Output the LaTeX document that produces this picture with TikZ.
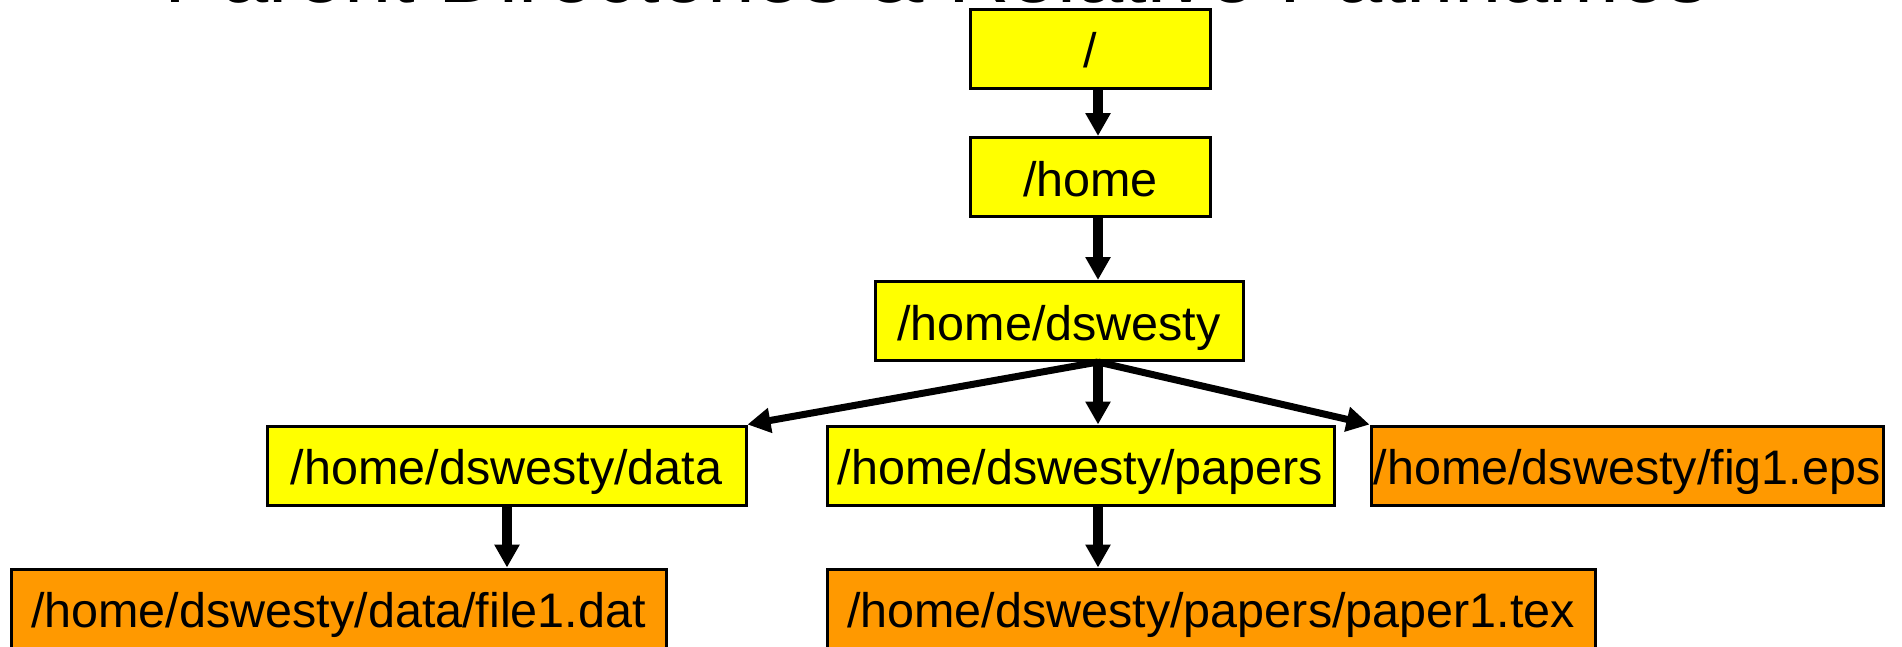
\documentclass[tikz,border=0pt]{standalone}
\usepackage{fontspec}
\setmainfont{Liberation Sans}
\usetikzlibrary{arrows.meta}
\definecolor{dirfill}{HTML}{FFFF00}
\definecolor{filefill}{HTML}{FF9900}
\begin{document}
\begin{tikzpicture}[x=1pt,y=-1pt,
  box/.style={draw=black, line width=3pt, inner sep=0pt, minimum height=79pt,
    font=\fontsize{48.5}{50}\selectfont, text height=38pt, text depth=0pt},
  dirbox/.style={box, fill=dirfill},
  filebox/.style={box, fill=filefill},
  link/.style={line width=10pt, -{Triangle[width=24pt,length=23pt]}},
  fanlink/.style={line width=7pt, -{Triangle[width=24pt,length=23pt]}}]
\useasboundingbox (0,0) rectangle (1902,646);
\fill[white] (0,0) rectangle (1902,646);

% heading, mostly above the page edge
\node[anchor=base, inner sep=0pt, font=\fontsize{85}{85}\selectfont] (title) at (937,2.5)
  {Parent Directories \& Relative Pathnames};

% directory tree
\node[dirbox, minimum width=240pt] (root) at (1090.5,48.5) {/};
\node[dirbox, minimum width=240pt] (home) at (1090.5,177) {/home};
\node[dirbox, minimum width=368pt] (dsw) at (1059,321) {/home/dswesty};
\node[dirbox, minimum width=479pt] (data) at (506.5,465.5) {/home/dswesty/data};
\node[dirbox, minimum width=507pt] (papers) at (1080.5,465.5) {/home/dswesty/papers};
\node[filebox, minimum width=512pt] (fig) at (1627,465.5) {/home/dswesty/fig1.eps};
\node[filebox, minimum width=655pt] (file) at (338.5,608.5) {/home/dswesty/data/file1.dat};
\node[filebox, minimum width=768pt] (paper) at (1211,608.5) {/home/dswesty/papers/paper1.tex};

% vertical axis of the main branch
\coordinate (spine) at (1098,0);
\coordinate (dataaxis) at (507,0);

% connectors
\draw[link] (root.south -| spine) -- (home.north -| spine);
\draw[link] (home.south -| spine) -- (dsw.north -| spine);
\draw[fanlink] (dsw.south -| spine) -- (data.north east);
\draw[link] (dsw.south -| spine) -- (papers.north -| spine);
\draw[fanlink] (dsw.south -| spine) -- (fig.north west);
\draw[link] (data.south -| dataaxis) -- (file.north -| dataaxis);
\draw[link] (papers.south -| spine) -- (paper.north -| spine);
\end{tikzpicture}
\end{document}
